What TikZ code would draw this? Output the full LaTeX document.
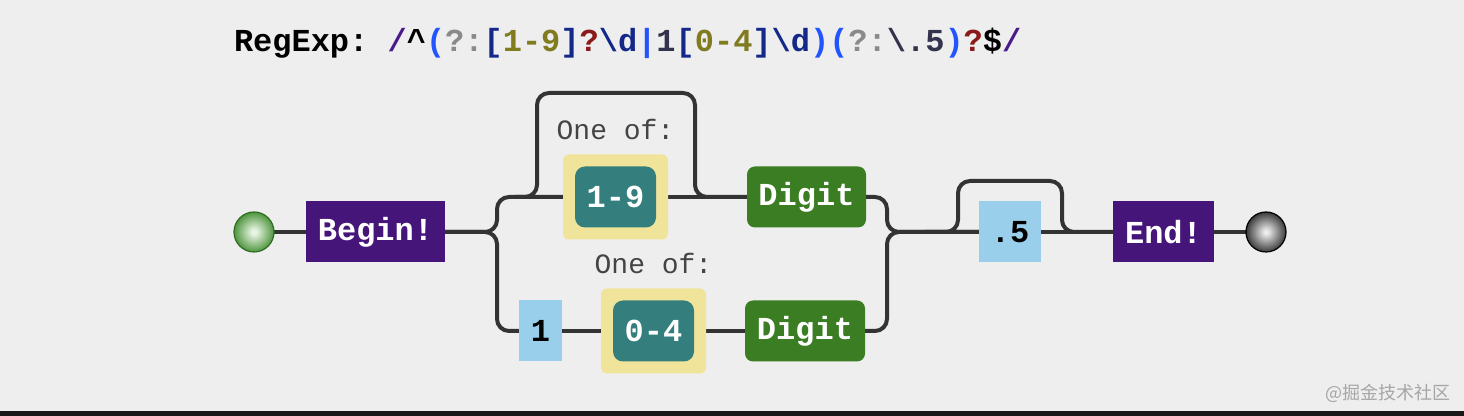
\documentclass[tikz,border=0pt]{standalone}
\usepackage{fontspec}
\setmonofont{Liberation Mono}
\newfontfamily\cjkfont{Noto Sans CJK SC}
\usetikzlibrary{positioning, backgrounds}
\definecolor{canvas}{HTML}{EEEEEE}
\definecolor{railc}{HTML}{333333}
\definecolor{anchorc}{HTML}{461579}
\definecolor{literal}{HTML}{99CFEA}
\definecolor{charset}{HTML}{F0E49B}
\definecolor{range}{HTML}{347E7E}
\definecolor{escape}{HTML}{3A7D23}
\definecolor{caption}{HTML}{444444}
\definecolor{startdark}{HTML}{3A8828}
\definecolor{startlight}{HTML}{E6F4E2}
% title colours
\definecolor{slash}{HTML}{4B1A8A}
\definecolor{paren}{HTML}{2255FF}
\definecolor{qmark}{HTML}{8A8A8A}
\definecolor{brack}{HTML}{14288A}
\definecolor{olive}{HTML}{7F7B1E}
\definecolor{quant}{HTML}{8B1A1A}
\definecolor{slate}{HTML}{33334D}
\pgfdeclareradialshading{greenball}{\pgfpoint{0bp}{0bp}}{color(0bp)=(startlight); color(3bp)=(startlight); color(28bp)=(startdark); color(50bp)=(startdark)}
\pgfdeclareradialshading{greyball}{\pgfpoint{0bp}{0bp}}{color(0bp)=(white!95!black); color(3bp)=(white!90!black); color(30bp)=(black!92); color(50bp)=(black)}

\begin{document}
\begin{tikzpicture}[x=0.5pt, y=-0.5pt, node distance=16pt,
    every node/.style={inner sep=0pt, outer sep=0pt},
    lbl/.style={font=\ttfamily\bfseries\fontsize{16}{18}\selectfont, text=white},
    anchorbox/.style={lbl, fill=anchorc, minimum width=#1, minimum height=30.5pt},
    litbox/.style={lbl, text=black, fill=literal, minimum width=#1, minimum height=30.5pt},
    setbox/.style={fill=charset, rounded corners=3pt, minimum width=52.5pt, minimum height=42.5pt},
    rangebox/.style={lbl, fill=range, rounded corners=5pt, minimum width=40.5pt, minimum height=30.5pt},
    escbox/.style={lbl, fill=escape, rounded corners=4pt, minimum width=#1, minimum height=30.5pt},
    oneof/.style={font=\ttfamily\fontsize{14}{16}\selectfont, text=caption},
    terminal/.style={circle, minimum size=20pt, shade, shading=#1},
    rail/.style={draw=railc, line width=2pt, rounded corners=6pt}]
  \useasboundingbox (0,0) rectangle (1464,416);

  % regexp source
  \node[anchor=base west, font=\ttfamily\bfseries\fontsize{16}{18}\selectfont] (title) at (234,52) {RegExp: \textcolor{slash}{/}\textasciicircum\textcolor{paren}{(}\textcolor{qmark}{?:}\textcolor{brack}{[}\textcolor{olive}{1-9}\textcolor{brack}{]}\textcolor{quant}{?}\textcolor{brack}{\textbackslash d}\textcolor{paren}{|}\textcolor{slate}{1}\textcolor{brack}{[}\textcolor{olive}{0-4}\textcolor{brack}{]\textbackslash d}\textcolor{paren}{)(}\textcolor{qmark}{?:}\textcolor{slate}{\textbackslash.5}\textcolor{paren}{)}\textcolor{quant}{?}\$\textcolor{slash}{/}};

  % main line
  \node[anchorbox=69.5pt] (begin) at (375.5,232) {Begin!};
  \node[terminal=greenball, draw=startdark!80!black, line width=0.6pt, left=16pt of begin] (start) {};
  \node[litbox=31pt] (lit5) at (1010,232) {.5};
  \node[anchorbox=50.5pt, right=36pt of lit5] (end) {End!};
  \node[terminal=greyball, draw=black, line width=0.6pt, right=16pt of end] (stop) {};

  % upper branch
  \node[setbox] (set1) at (615.5,197) {};
  \node[rangebox] (rng1) at (set1) {1-9};
  \node[oneof, above=7.5pt of set1] (of1) {One of:};
  \node[escbox=59.5pt, right=39.5pt of set1] (dig1) {Digit};

  % lower branch
  \node[litbox=21.5pt] (lit1) at (540.5,331) {1};
  \node[setbox, right=19.5pt of lit1] (set2) {};
  \node[rangebox] (rng2) at (set2) {0-4};
  \node[oneof, above=7.5pt of set2] (of2) {One of:};
  \node[escbox=60pt, right=19.5pt of set2] (dig2) {Digit};

  \coordinate (fork) at (497,232);
  \coordinate (join) at (887,232);
  \coordinate (hopIn) at (515,197);
  \coordinate (hopL) at (537,93);
  \coordinate (hopR) at (695,93);
  \coordinate (optIn) at (925,232);
  \coordinate (optL) at (958,181);
  \coordinate (optR) at (1062,181);

  \begin{scope}[on background layer]
    \fill[canvas] (0,0) rectangle (1464,416);
    \draw[rail] (start) -- (begin);
    \draw[rail] (begin.east) -- (fork) |- (set1.west);
    \draw[rail] (begin.east) -- (fork) |- (lit1.west);
    \draw[rail] (hopIn) -- (hopL |- hopIn) -- (hopL) -- (hopR) -- (hopR |- hopIn) -- (dig1.west);
    \draw[rail] (set1) -- (dig1);
    \draw[rail] (lit1) -- (set2);
    \draw[rail] (set2) -- (dig2);
    \draw[rail] (dig1.east) -| (join) -- (lit5.west);
    \draw[rail] (dig2.east) -| (join) -- (lit5.west);
    \draw[rail] (optIn) -- (optL |- optIn) -- (optL) -- (optR) -- (optR |- optIn) -- (end.west);
    \draw[rail] (lit5) -- (end);
    \draw[rail] (end) -- (stop);
  \end{scope}

  \node[text=black!35, font=\cjkfont\fontsize{9}{11}\selectfont] (mark) at (1388,393) {@掘金技术社区};
  \fill[black!90] (0,411) rectangle (1464,416);
\end{tikzpicture}
\end{document}
